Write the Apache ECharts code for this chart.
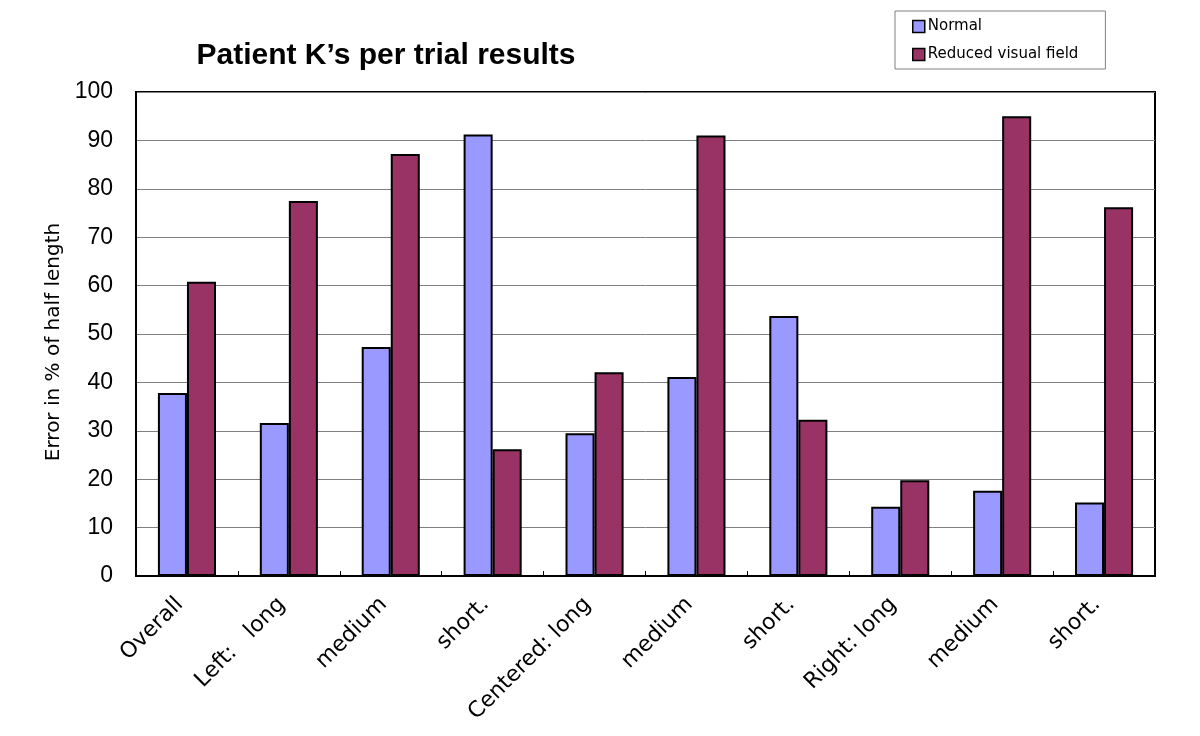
<!DOCTYPE html>
<html>
<head>
<meta charset="utf-8">
<script src="https://cdn.jsdelivr.net/npm/echarts@6/dist/echarts.min.js"></script>
<style>
html,body{margin:0;padding:0;background:#fff;}
#chart{width:1200px;height:736px;}
</style>
</head>
<body>
<div id="chart"></div>
<script>
const categories = ['Overall', 'Left:   long', 'medium', 'short.', 'Centered: long', 'medium', 'short.', 'Right: long', 'medium', 'short.'];
const normalValues = [37.8, 31.6, 47.3, 91.2, 29.5, 41.1, 53.7, 14.3, 17.6, 15.2];
const reducedValues = [60.8, 77.5, 87.2, 26.2, 42.1, 91.0, 32.3, 19.8, 95.0, 76.2];
const seriesNames = ['Normal', 'Reduced visual field'];
const titleText = "Patient K\u2019s per trial results";
const yAxisName = 'Error in % of half length';

const chart = echarts.init(document.getElementById('chart'), null, {renderer: 'canvas'});
chart.setOption({
  animation: false,
  backgroundColor: '#fff',
  title: {
    text: titleText,
    left: 381,
    top: 36,
    textAlign: 'center',
    textStyle: {fontFamily: 'Liberation Sans', fontWeight: 'bold', fontSize: 30, color: '#000'}
  },
  legend: {
    orient: 'vertical',
    left: 895,
    top: 11,
    padding: [8, 27, 7, 17],
    itemGap: 13,
    itemWidth: 12,
    itemHeight: 12,
    icon: 'rect',
    borderColor: '#808080',
    borderWidth: 1,
    textStyle: {fontFamily: 'DejaVu Sans', fontSize: 15, color: '#000', padding: [0, 0, 0, -2]},
    itemStyle: {borderColor: '#000', borderWidth: 1.5},
    data: seriesNames
  },
  grid: {
    left: 136, right: 45, top: 92, bottom: 160,
    show: true, borderColor: '#000', borderWidth: 2, backgroundColor: '#fff'
  },
  xAxis: {
    type: 'category',
    data: categories,
    axisLine: {lineStyle: {color: '#000', width: 2}},
    axisTick: {show: true, inside: true, length: 5, lineStyle: {color: '#000', width: 1}},
    axisLabel: {rotate: 45, margin: 18, interval: 0, padding: [0, 10, 0, 0], fontFamily: 'DejaVu Sans', fontSize: 22, color: '#000'}
  },
  yAxis: {
    type: 'value',
    min: 0, max: 100, interval: 10,
    name: yAxisName,
    nameLocation: 'middle',
    nameGap: 70,
    nameTextStyle: {fontFamily: 'DejaVu Sans', fontSize: 20, color: '#000', padding: [0, 16, 0, 0]},
    axisLine: {show: true, lineStyle: {color: '#000', width: 2}},
    axisTick: {show: false},
    axisLabel: {margin: 23, fontFamily: 'Liberation Sans', fontSize: 23, color: '#000'},
    splitLine: {show: true, lineStyle: {color: '#808080', width: 1}}
  },
  series: [
    {
      name: seriesNames[0], type: 'bar', data: normalValues,
      barGap: '0%', barCategoryGap: '43%',
      itemStyle: {color: '#9999FF', borderColor: '#000', borderWidth: 2}
    },
    {
      name: seriesNames[1], type: 'bar', data: reducedValues,
      barGap: '0%', barCategoryGap: '43%',
      itemStyle: {color: '#993366', borderColor: '#000', borderWidth: 2}
    }
  ]
});
</script>
</body>
</html>
